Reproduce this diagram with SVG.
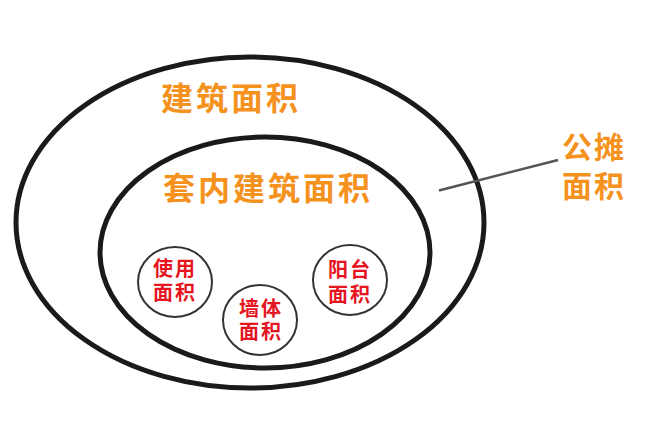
<svg xmlns="http://www.w3.org/2000/svg" width="650" height="432" viewBox="0 0 650 432">
<style>
.big{fill:none;stroke:#1a1a1a;stroke-width:5}
.small{fill:#fff;stroke:#333;stroke-width:2}
.org{fill:#f5921e;font-family:"Noto Sans CJK SC",sans-serif;font-weight:bold;text-anchor:middle}
.red{fill:#e6141e;font-family:"Noto Sans CJK SC",sans-serif;font-weight:bold;font-size:20px;text-anchor:middle;letter-spacing:2px}
</style>
<rect width="650" height="432" fill="#fff"/>
<g id="building">
<ellipse class="big" cx="250" cy="222.5" rx="234" ry="165.5"/>
<text class="org" x="231" y="110" font-size="32" letter-spacing="3">建筑面积</text>
</g>
<g id="inner">
<ellipse class="big" cx="265" cy="252.5" rx="165" ry="115.5"/>
<text class="org" x="268" y="200" font-size="32" letter-spacing="3">套内建筑面积</text>
</g>
<g id="usable">
<ellipse class="small" cx="175" cy="282" rx="37" ry="35"/>
<text class="red"><tspan x="175" y="276">使用</tspan><tspan x="175" y="300">面积</tspan></text>
</g>
<g id="wall">
<ellipse class="small" cx="260" cy="320" rx="37" ry="35"/>
<text class="red"><tspan x="261" y="316">墙体</tspan><tspan x="261" y="339">面积</tspan></text>
</g>
<g id="balcony">
<ellipse class="small" cx="350" cy="280" rx="37" ry="35"/>
<text class="red"><tspan x="350" y="277">阳台</tspan><tspan x="350" y="302">面积</tspan></text>
</g>
<g id="shared">
<text class="org" font-size="30" letter-spacing="2"><tspan x="594" y="158">公摊</tspan><tspan x="594" y="197">面积</tspan></text>
</g>
<g id="connectors">
<line x1="439" y1="190.5" x2="558" y2="160" stroke="#555" stroke-width="2.5"/>
</g>
</svg>
